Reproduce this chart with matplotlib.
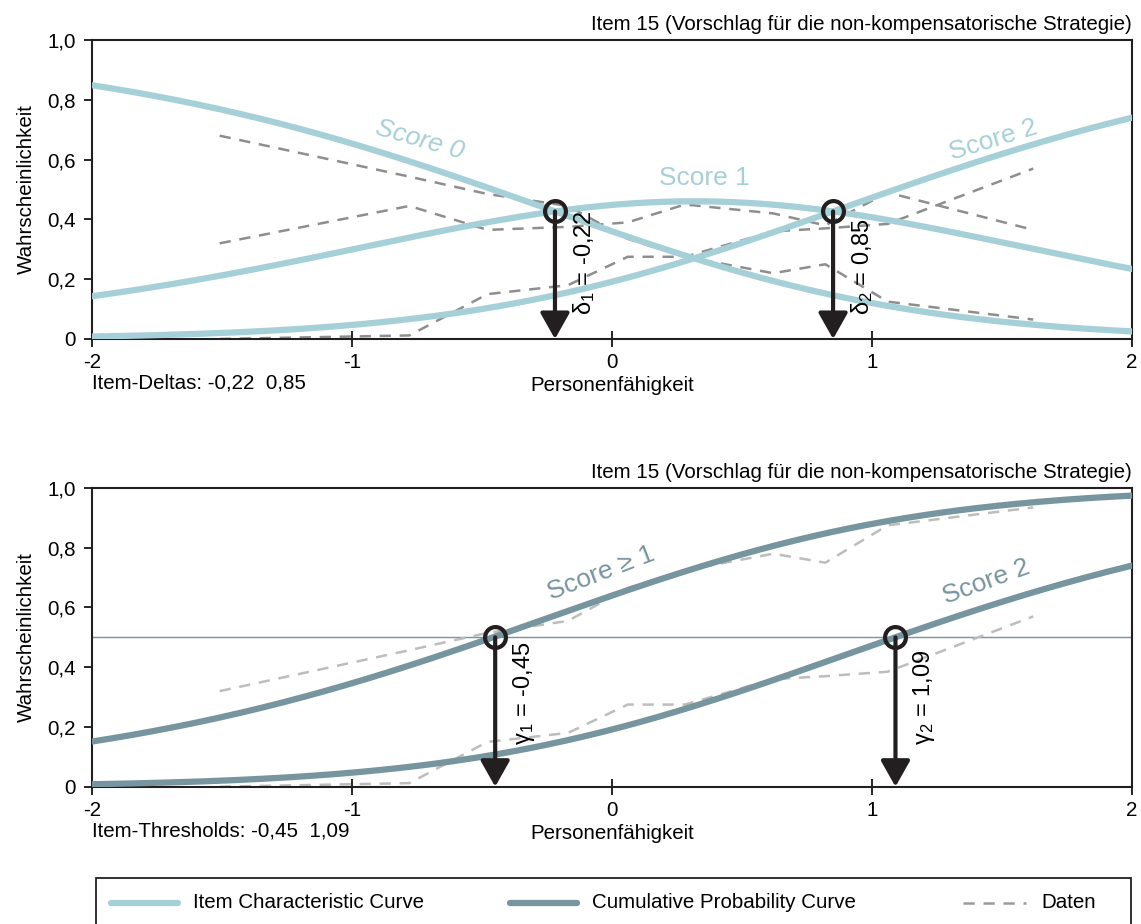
import numpy as np
import matplotlib.pyplot as plt
from matplotlib.lines import Line2D
from matplotlib.patches import Rectangle

plt.rcParams['font.family'] = ['Liberation Sans', 'DejaVu Sans']
plt.rcParams['mathtext.fontset'] = 'custom'
plt.rcParams['mathtext.rm'] = 'Liberation Sans'
plt.rcParams['mathtext.it'] = 'Liberation Sans'
plt.rcParams['axes.unicode_minus'] = False

# Modellparameter (Partial Credit Model)
item_deltas = [-0.22, 0.85]
item_thresholds = [-0.45, 1.09]

# beobachtete Anteile je Faehigkeitsgruppe
data_theta = [-1.51, -0.78, -0.48, -0.17, 0.06, 0.28, 0.62, 0.82, 1.06, 1.62]
data_score0 = [0.68, 0.543, 0.485, 0.445, 0.335, 0.275, 0.22, 0.25, 0.125, 0.065]
data_score1 = [0.32, 0.445, 0.365, 0.375, 0.39, 0.45, 0.42, 0.38, 0.49, 0.365]
data_score2 = [0.0, 0.012, 0.15, 0.18, 0.275, 0.275, 0.36, 0.37, 0.385, 0.57]

title = 'Item 15 (Vorschlag für die non-kompensatorische Strategie)'
legend_labels = ['Item Characteristic Curve', 'Cumulative Probability Curve', 'Daten']

icc_color = '#a6d0d7'
cpc_color = '#76959e'
arrow_color = '#231f20'
fs = 14.8


def pcm(theta, deltas):
    steps = [np.zeros_like(theta)] + [theta - d for d in deltas]
    num = np.exp(np.cumsum(steps, axis=0))
    return num / num.sum(axis=0)


def komma(v):
    return f'{v:.2f}'.replace('.', ',')


theta = np.linspace(-2, 2, 400)
P = pcm(theta, item_deltas)
cum1 = P[1] + P[2]
cum2 = P[2]

fig = plt.figure(figsize=(11.41, 9.24), dpi=100)
ax1 = fig.add_axes([92.3 / 1141, 1 - 339 / 924, 1039.7 / 1141, 299 / 924])
ax2 = fig.add_axes([92.3 / 1141, 1 - 786.7 / 924, 1039.7 / 1141, 298.7 / 924])


def style_axes(ax):
    ax.set_xlim(-2, 2)
    ax.set_ylim(0, 1)
    ax.set_xticks([-2, -1, 0, 1, 2])
    ax.set_yticks([0, 0.2, 0.4, 0.6, 0.8, 1.0])
    ax.set_yticklabels(['0', '0,2', '0,4', '0,6', '0,8', '1,0'])
    ax.tick_params(axis='x', direction='inout', length=12, width=1.2, labelsize=fs, pad=4)
    ax.tick_params(axis='y', direction='out', length=6, width=1.2, labelsize=fs, pad=6)
    for s in ax.spines.values():
        s.set_linewidth(1.5)
        s.set_color('#231f20')
    ax.set_ylabel('Wahrscheinlichkeit', fontsize=fs, labelpad=8)
    ax.set_xlabel('Personenfähigkeit', fontsize=fs, labelpad=3)
    ax.text(1.0, 1.02, title, transform=ax.transAxes, ha='right', va='bottom', fontsize=fs)


def draw_arrow(ax, x, y, label, label_y):
    ax.annotate('', xy=(x, 0), xytext=(x, y),
                arrowprops=dict(arrowstyle='-|>,head_length=0.8,head_width=0.45',
                                lw=3, color=arrow_color, mutation_scale=20,
                                shrinkA=0, shrinkB=0), zorder=6)
    ax.plot(x, y, 'o', ms=15, mfc='none', mec=arrow_color, mew=3, zorder=7)
    ax.text(x + 0.11, label_y, label, rotation=90, ha='center', va='bottom',
            fontsize=17, zorder=7)


# oben: Kategorienwahrscheinlichkeiten
style_axes(ax1)
for d in (data_score0, data_score1, data_score2):
    ax1.plot(data_theta, d, color='#8e8e8e', lw=1.8, dashes=(4.5, 3.5), zorder=2)
for k in range(3):
    ax1.plot(theta, P[k], color=icc_color, lw=4.5, solid_capstyle='round', zorder=3)

for k, d in enumerate(item_deltas):
    p_cross = pcm(np.array([d]), item_deltas)[k][0]
    draw_arrow(ax1, d, p_cross, 'δ$_%d$ = %s' % (k + 1, komma(d)), 0.08)

ax1.text(-0.74, 0.665, 'Score 0', color=icc_color, fontsize=19, rotation=-16,
         ha='center', va='center', style='italic')
ax1.text(0.356, 0.54, 'Score 1', color=icc_color, fontsize=19, ha='center', va='center')
ax1.text(1.465, 0.665, 'Score 2', color=icc_color, fontsize=19, rotation=17,
         ha='center', va='center')
ax1.text(0.0, -0.147, 'Item-Deltas: ' + '  '.join(komma(d) for d in item_deltas),
         transform=ax1.transAxes, ha='left', va='center', fontsize=fs)

# unten: kumulierte Wahrscheinlichkeiten
style_axes(ax2)
ax2.axhline(0.5, color=cpc_color, lw=1, zorder=1)
data_cum1 = np.array(data_score1) + np.array(data_score2)
data_cum2 = np.array(data_score2)
for d in (data_cum1, data_cum2):
    ax2.plot(data_theta, d, color='#bdbdbd', lw=1.8, dashes=(4.5, 3.5), zorder=2)
ax2.plot(theta, cum1, color=cpc_color, lw=4.5, solid_capstyle='round', zorder=3)
ax2.plot(theta, cum2, color=cpc_color, lw=4.5, solid_capstyle='round', zorder=3)

for k, g in enumerate(item_thresholds):
    draw_arrow(ax2, g, 0.5, 'γ$_%d$ = %s' % (k + 1, komma(g)), 0.14)

ax2.text(-0.043, 0.715, 'Score ≥ 1', color=cpc_color, fontsize=19, rotation=21,
         ha='center', va='center')
ax2.text(1.44, 0.685, 'Score 2', color=cpc_color, fontsize=19, rotation=20,
         ha='center', va='center')
ax2.text(0.0, -0.147, 'Item-Thresholds: ' + '  '.join(komma(g) for g in item_thresholds),
         transform=ax2.transAxes, ha='left', va='center', fontsize=fs)

# Legende im Kasten unten
fig.patches.append(Rectangle((96 / 1141, -0.01), 1035 / 1141, 0.01 + 46 / 924,
                             transform=fig.transFigure, fill=False,
                             edgecolor='#231f20', lw=1.3))
leg_y = 1 - 903 / 924
handle_x = [(111, 178), (510, 577), (963, 1026)]
styles = [dict(color=icc_color, lw=4.5, solid_capstyle='round'),
          dict(color=cpc_color, lw=4.5, solid_capstyle='round'),
          dict(color='#9a9a9a', lw=1.8, dashes=(4.5, 3.5))]
for (x0, x1), st, lab in zip(handle_x, styles, legend_labels):
    fig.add_artist(Line2D([x0 / 1141, x1 / 1141], [leg_y, leg_y],
                          transform=fig.transFigure, **st))
    fig.text((x1 + 15) / 1141, leg_y, lab, ha='left', va='center', fontsize=fs)

fig.savefig('out.png', dpi=100)
